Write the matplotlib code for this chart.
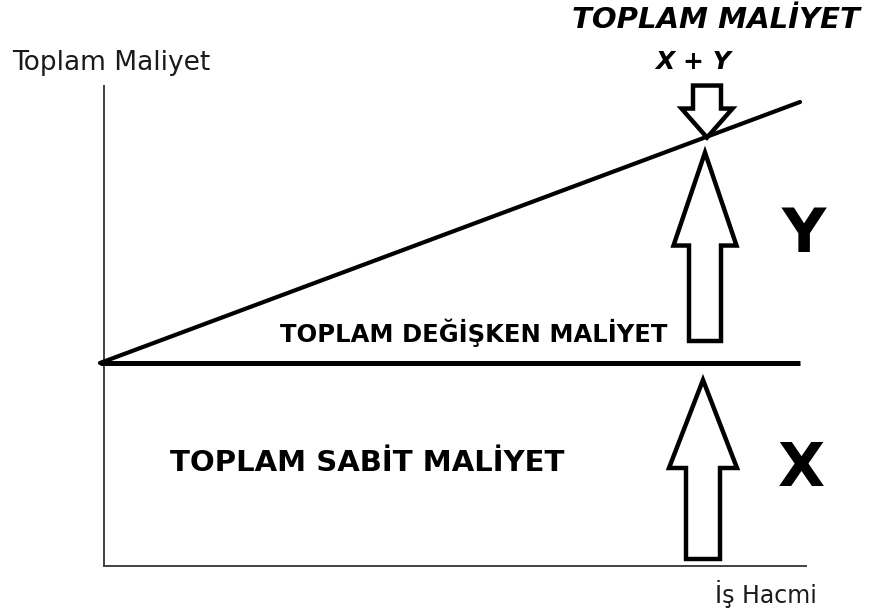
import matplotlib
matplotlib.use("Agg")
import matplotlib.pyplot as plt
from matplotlib.patches import Polygon

# ---- data ----
volume = [0, 700]
fixed_cost = [203, 203]
total_cost = [203, 464]
arrow_volume = 602
y_axis_label = "Toplam Maliyet"
x_axis_label = "İş Hacmi"
label_total = "TOPLAM MALİYET"
label_sum = "X + Y"
label_variable = "TOPLAM DEĞİŞKEN MALİYET"
label_fixed = "TOPLAM SABİT MALİYET"

FONT = "DejaVu Sans"

fig = plt.figure(figsize=(8.69, 6.15), dpi=100)
ax = fig.add_axes([0, 0, 1, 1])
ax.set_xlim(-103, 766)
ax.set_ylim(-49, 566)
ax.axis("off")

# axes lines
ax.plot([1, 1], [0, 481], color="#333333", lw=1.3, solid_capstyle="butt")
ax.plot([0, 704], [0, 0], color="#333333", lw=1.3, solid_capstyle="butt")

# fixed cost & total cost lines
ax.plot([-3, 697], fixed_cost, color="black", lw=3.6, solid_capstyle="butt")
ax.plot([v - 3 for v in volume], total_cost, color="black", lw=3.0, solid_capstyle="round")


def total_at(v):
    return total_cost[0] + (total_cost[1] - total_cost[0]) * (v - volume[0]) / (volume[1] - volume[0])


def block_arrow(xc, y0, y1, shaft_w, head_w, head_len):
    # y0 = tail, y1 = tip
    d = 1 if y1 > y0 else -1
    yb = y1 - d * head_len
    pts = [
        (xc - shaft_w / 2, y0),
        (xc - shaft_w / 2, yb),
        (xc - head_w / 2, yb),
        (xc, y1),
        (xc + head_w / 2, yb),
        (xc + shaft_w / 2, yb),
        (xc + shaft_w / 2, y0),
    ]
    ax.add_patch(Polygon(pts, closed=True, facecolor="white", edgecolor="black",
                         lw=3.2, joinstyle="miter"))


fc = fixed_cost[0]
tc = total_at(arrow_volume)
# X arrow (fixed)
block_arrow(arrow_volume - 2, 7, fc - 17, 34, 68, 88)
# Y arrow (variable)
block_arrow(arrow_volume, fc + 22, tc - 14, 32, 63, 93)
# down arrow
block_arrow(arrow_volume + 2, tc + 53, tc + 1, 28, 51, 29)

# texts
ax.text(-91, 503, y_axis_label, fontsize=19, family=FONT, color="#1a1a1a",
        ha="left", va="center")
ax.text(663, -28, x_axis_label, fontsize=17, family=FONT, color="#1a1a1a",
        ha="center", va="center")
ax.text(613, 546, label_total, fontsize=21, family=FONT, weight="bold", style="italic",
        ha="center", va="center")
ax.text(590, 504, label_sum, fontsize=18, family=FONT, weight="bold", style="italic",
        ha="center", va="center")
ax.text(371, 233, label_variable, fontsize=17.5, family=FONT, weight="bold",
        ha="center", va="center")
ax.text(264, 103, label_fixed, fontsize=21, family=FONT, weight="bold",
        ha="center", va="center")
ax.text(701, 330, "Y", fontsize=44, family=FONT, weight="bold", ha="center", va="center")
ax.text(698, 96, "X", fontsize=44, family=FONT, weight="bold", ha="center", va="center")

fig.savefig("out.png", dpi=100, facecolor="white")
